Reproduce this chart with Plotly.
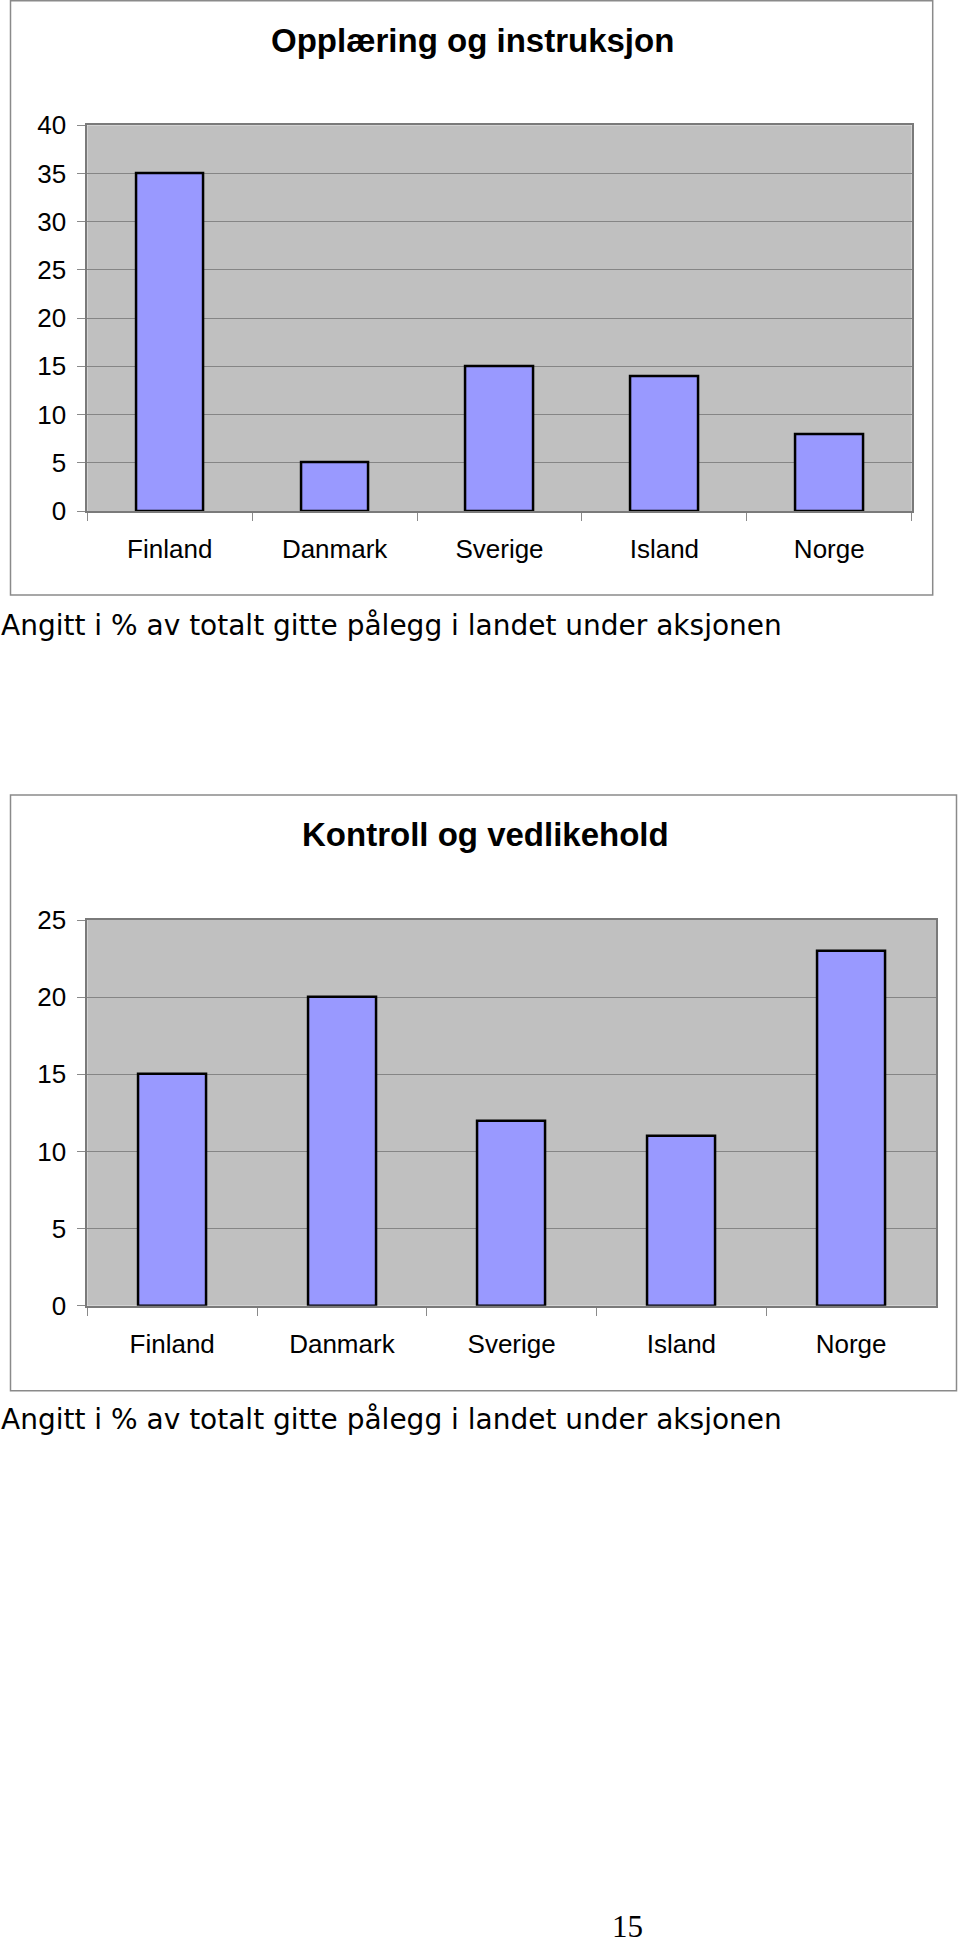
import plotly.graph_objects as go

# ---------------- data ----------------
countries = ["Finland", "Danmark", "Sverige", "Island", "Norge"]
opplaering_values = [35, 5, 15, 14, 8]
kontroll_values = [15, 20, 12, 11, 23]
title_1 = "Opplæring og instruksjon"
title_2 = "Kontroll og vedlikehold"
caption_text = "Angitt i % av totalt gitte pålegg i landet under aksjonen"
page_number = "15"
y_ticks_1 = [0, 5, 10, 15, 20, 25, 30, 35, 40]
y_ticks_2 = [0, 5, 10, 15, 20, 25]

# ---------------- layout constants (pixels) ----------------
W, H = 960, 1947


def px_x(x):
    return x / W


def px_y(y):
    return 1 - y / H


BAR_COLOR = "#9999FF"
PLOT_BG = "#C0C0C0"
GRID = "#858585"
FRAME = "#8a8a8a"
ARIAL = "Liberation Sans, Arial, sans-serif"

fig = go.Figure()

fig.add_trace(go.Bar(
    x=countries, y=opplaering_values, width=0.41,
    marker=dict(color=BAR_COLOR, line=dict(color="black", width=2.5)),
    xaxis="x", yaxis="y", showlegend=False, hoverinfo="skip",
))
fig.add_trace(go.Bar(
    x=countries, y=kontroll_values, width=0.40,
    marker=dict(color=BAR_COLOR, line=dict(color="black", width=2.5)),
    xaxis="x2", yaxis="y2", showlegend=False, hoverinfo="skip",
))

xaxis_common = dict(
    type="category", range=[-0.5, 4.5], showgrid=False, zeroline=False,
    showline=True, linecolor="#7a7a7a", linewidth=2, mirror=True,
    ticks="outside", tickson="boundaries", ticklen=8, tickcolor="#8a8a8a",
    tickwidth=1, tickfont=dict(family=ARIAL, size=26, color="black"),
    ticklabelstandoff=14, fixedrange=True, automargin=False,
)
yaxis_common = dict(
    showgrid=True, gridcolor=GRID, gridwidth=1, zeroline=False,
    showline=True, linecolor="#7a7a7a", linewidth=2, mirror=True,
    ticks="outside", ticklen=8, tickcolor="#8a8a8a", tickwidth=1,
    tickfont=dict(family=ARIAL, size=26, color="black"),
    ticklabelstandoff=6, fixedrange=True, automargin=False,
)

fig.update_layout(
    width=W, height=H,
    margin=dict(l=0, r=0, t=0, b=0, pad=0, autoexpand=False),
    paper_bgcolor="white",
    plot_bgcolor=PLOT_BG,
    bargap=0,
    xaxis=dict(xaxis_common, domain=[px_x(87.3), px_x(911.7)], anchor="y"),
    yaxis=dict(yaxis_common, domain=[px_y(511), px_y(125.3)], anchor="x",
               range=[0, 40], tickvals=y_ticks_1),
    xaxis2=dict(xaxis_common, domain=[px_x(87.3), px_x(936)], anchor="y2"),
    yaxis2=dict(yaxis_common, domain=[px_y(1305.7), px_y(920)], anchor="x2",
                range=[0, 25], tickvals=y_ticks_2),
)

# chart frames
shapes = [
    dict(type="rect", xref="paper", yref="paper",
         x0=px_x(10.5), x1=px_x(932.7), y0=px_y(595), y1=px_y(0.8),
         line=dict(color=FRAME, width=1.5), fillcolor="rgba(0,0,0,0)", layer="below"),
    dict(type="rect", xref="paper", yref="paper",
         x0=px_x(10.5), x1=px_x(956.5), y0=px_y(1390.7), y1=px_y(795),
         line=dict(color=FRAME, width=1.5), fillcolor="rgba(0,0,0,0)", layer="below"),
]
fig.update_layout(shapes=shapes)

annotations = [
    dict(text=f"<b>{title_1}</b>", x=px_x(472), y=px_y(40), xref="paper", yref="paper",
         xanchor="center", yanchor="middle", showarrow=False,
         font=dict(family=ARIAL, size=33, color="black")),
    dict(text=f"<b>{title_2}</b>", x=px_x(485), y=px_y(835), xref="paper", yref="paper",
         xanchor="center", yanchor="middle", showarrow=False,
         font=dict(family=ARIAL, size=33, color="black")),
    dict(text=caption_text, x=0, y=px_y(625), xref="paper", yref="paper",
         xanchor="left", yanchor="middle", showarrow=False, borderpad=0,
         font=dict(family="DejaVu Sans", size=28, color="black")),
    dict(text=caption_text, x=0, y=px_y(1419), xref="paper", yref="paper",
         xanchor="left", yanchor="middle", showarrow=False, borderpad=0,
         font=dict(family="DejaVu Sans", size=28, color="black")),
    dict(text=page_number, x=px_x(627), y=px_y(1926), xref="paper", yref="paper",
         xanchor="center", yanchor="middle", showarrow=False, borderpad=0,
         font=dict(family="Liberation Serif, Times New Roman, serif", size=31, color="black")),
]
fig.update_layout(annotations=annotations)

fig.write_html("out.html")
